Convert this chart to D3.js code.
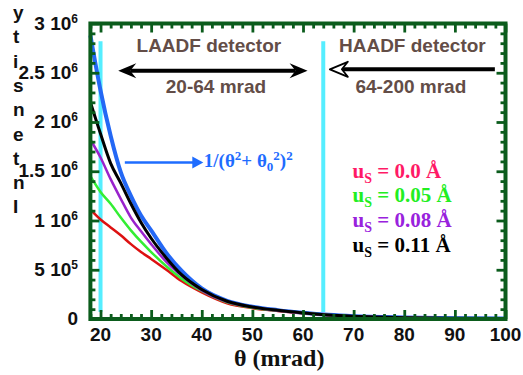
<!DOCTYPE html>
<html>
<head>
<meta charset="utf-8">
<script src="https://cdn.jsdelivr.net/npm/d3@7"></script>
<style>
  html, body { margin: 0; padding: 0; background: #fff; }
  svg { display: block; }
</style>
</head>
<body>
<div id="chart"></div>
<script>
// scattering angle samples (mrad)
const theta = [18, 20, 22, 24, 26, 28, 30, 33, 36, 40, 45, 50, 55, 60, 65, 70, 80, 90, 100];

// intensities in units of 1e6
const blueFit = [2.88, 2.32, 1.86, 1.49, 1.25, 1.05, 0.90, 0.67, 0.49, 0.31, 0.185, 0.125, 0.09, 0.063, 0.042, 0.028, 0.015, 0.008, 0.005];
const us000 = [1.11, 1.01, 0.93, 0.85, 0.76, 0.68, 0.61, 0.50, 0.385, 0.27, 0.16, 0.11, 0.082, 0.058, 0.039, 0.026, 0.012, 0.007, 0.004];
const us005 = [1.45, 1.29, 1.17, 1.03, 0.90, 0.785, 0.68, 0.535, 0.41, 0.285, 0.17, 0.115, 0.085, 0.06, 0.04, 0.026, 0.012, 0.007, 0.004];
const us008 = [1.82, 1.64, 1.42, 1.22, 1.03, 0.89, 0.76, 0.58, 0.44, 0.29, 0.175, 0.12, 0.087, 0.061, 0.04, 0.027, 0.013, 0.007, 0.004];
const us011 = [2.20, 1.88, 1.58, 1.38, 1.17, 0.98, 0.82, 0.62, 0.45, 0.30, 0.18, 0.122, 0.088, 0.062, 0.04, 0.027, 0.013, 0.007, 0.004];

const legendLabels = ["0.0", "0.05", "0.08", "0.11"];
const detectorAngles = [20, 64];

const xTicks = [20, 30, 40, 50, 60, 70, 80, 90, 100];
const yTickMant = ["0", "5", "1", "1.5", "2", "2.5", "3"];
const yTickExp = ["", "5", "6", "6", "6", "6", "6"];
const yTickVals = [0, 5e5, 1e6, 1.5e6, 2e6, 2.5e6, 3e6];

const W = 523, H = 375;
const green = "#0b5c1c";
const brown = "#634d47";
const sans = "'Liberation Sans', Arial, sans-serif";
const serif = "'Liberation Serif', 'Times New Roman', serif";

const svg = d3.select("#chart").append("svg")
  .attr("width", W).attr("height", H);

const x = d3.scaleLinear().domain([18, 100]).range([90.4, 505.5]);
const y = d3.scaleLinear().domain([0, 3e6]).range([319, 23.5]);

// detector boundaries
svg.selectAll(".det")
  .data(detectorAngles)
  .enter().append("line")
  .attr("x1", d => x(d)).attr("x2", d => x(d))
  .attr("y1", y(2.82e6)).attr("y2", y(0.07e6))
  .attr("stroke", "#55eeff").attr("stroke-width", 4);

// curves
const line = d3.line()
  .x((d, i) => x(theta[i]))
  .y(d => y(d * 1e6))
  .curve(d3.curveMonotoneX);

const series = [
  { v: blueFit, c: "#2468f5", w: 4 },
  { v: us000, c: "#dd1111", w: 2.5 },
  { v: us005, c: "#33ee33", w: 2.5 },
  { v: us008, c: "#9922cc", w: 2.5 },
  { v: us011, c: "#000000", w: 3 }
];
svg.selectAll(".curve")
  .data(series)
  .enter().append("path")
  .attr("d", d => line(d.v))
  .attr("fill", "none")
  .attr("stroke", d => d.c)
  .attr("stroke-width", d => d.w)
  .attr("stroke-linejoin", "round");

// frame + inward ticks on all sides
const minorX = d3.range(18, 101, 2).filter(v => v % 10 !== 0);
const minorY = d3.range(0, 3e6 + 1, 1e5).filter(v => v % 5e5 !== 0);

function tickAxis(axis, vals, size, tx, ty) {
  const g = svg.append("g")
    .attr("transform", `translate(${tx},${ty})`)
    .call(axis.tickValues(vals).tickSize(-size).tickFormat(""));
  g.select(".domain").remove();
  g.selectAll("line").attr("stroke", green).attr("stroke-width", 2.8);
}
[[minorX, 5], [xTicks, 9]].forEach(([v, s]) => {
  tickAxis(d3.axisBottom(x), v, s, 0, y(0));
  tickAxis(d3.axisTop(x), v, s, 0, y(3e6));
});
[[minorY, 5], [yTickVals, 9]].forEach(([v, s]) => {
  tickAxis(d3.axisLeft(y), v, s, x(18), 0);
  tickAxis(d3.axisRight(y), v, s, x(100), 0);
});

svg.append("rect")
  .attr("x", x(18)).attr("y", y(3e6))
  .attr("width", x(100) - x(18)).attr("height", y(0) - y(3e6))
  .attr("fill", "none").attr("stroke", green).attr("stroke-width", 4);

// tick labels
svg.selectAll(".xl")
  .data(xTicks)
  .enter().append("text")
  .attr("x", d => x(d)).attr("y", 341)
  .attr("text-anchor", "middle")
  .attr("font-family", sans).attr("font-weight", "bold").attr("font-size", 19)
  .attr("fill", "#111")
  .text(d => d);

yTickVals.forEach((v, i) => {
  const t = svg.append("text")
    .attr("x", 78).attr("y", y(v) + 6)
    .attr("text-anchor", "end")
    .attr("font-family", sans).attr("font-weight", "bold").attr("font-size", 19)
    .attr("fill", "#111");
  if (yTickExp[i]) {
    t.append("tspan").text(yTickMant[i] + " 10");
    t.append("tspan").attr("dy", -7).attr("font-size", 12).text(yTickExp[i]);
  } else {
    t.text(yTickMant[i]);
  }
});

// axis titles
svg.append("text")
  .attr("x", x(55.3)).attr("y", 366)
  .attr("text-anchor", "middle")
  .attr("font-family", serif).attr("font-weight", "bold").attr("font-size", 24)
  .attr("fill", "#111")
  .text("θ (mrad)");

"ytisnetnI".split("").forEach((ch, i) => {
  svg.append("text")
    .attr("x", 13).attr("y", 19 + i * 24.3)
    .attr("font-family", sans).attr("font-weight", "bold").attr("font-size", 19)
    .attr("fill", "#111")
    .text(ch);
});

// detector annotations
const annot = [
  { t: "LAADF detector", th: 41.4, v: 2.71e6 },
  { t: "20-64 mrad", th: 42.8, v: 2.29e6 },
  { t: "HAADF detector", th: 81.6, v: 2.71e6 },
  { t: "64-200 mrad", th: 81.3, v: 2.29e6 }
];
svg.selectAll(".ann")
  .data(annot)
  .enter().append("text")
  .attr("x", d => x(d.th)).attr("y", d => y(d.v))
  .attr("text-anchor", "middle")
  .attr("font-family", sans).attr("font-weight", "bold").attr("font-size", 19)
  .attr("fill", brown)
  .text(d => d.t);

function head(px, py, dir, fill, stroke) {
  // barbed arrow head, tip at (px,py), dir = 1 points right, -1 left
  const p = [[0, 0], [-18, -7.5], [-12, 0], [-18, 7.5]]
    .map(([a, b]) => [px + dir * a, py + b]);
  svg.append("path")
    .attr("d", "M" + p.join("L") + "Z")
    .attr("fill", fill).attr("stroke", stroke).attr("stroke-width", stroke === "none" ? 0 : 1.8)
    .attr("stroke-linejoin", "round");
}

// LAADF double arrow
const la = { a: 23.5, b: 60.9, v: 2.52e6 };
svg.append("line")
  .attr("x1", x(la.a) + 12).attr("x2", x(la.b) - 12)
  .attr("y1", y(la.v)).attr("y2", y(la.v))
  .attr("stroke", "#000").attr("stroke-width", 4);
head(x(la.a), y(la.v), -1, "#000", "none");
head(x(la.b), y(la.v), 1, "#000", "none");

// HAADF arrow
const ha = { a: 65.3, b: 97.9, v: 2.535e6 };
svg.append("line")
  .attr("x1", x(ha.a) + 12).attr("x2", x(ha.b))
  .attr("y1", y(ha.v)).attr("y2", y(ha.v))
  .attr("stroke", "#000").attr("stroke-width", 4);
head(x(ha.a), y(ha.v), -1, "#fff", "#000");

// fit annotation
const fa = { a: 24.8, b: 40.3, v: 1.59e6 };
svg.append("line")
  .attr("x1", x(fa.a)).attr("x2", x(fa.b) - 8)
  .attr("y1", y(fa.v)).attr("y2", y(fa.v))
  .attr("stroke", "#1e6cff").attr("stroke-width", 2.5);
svg.append("path")
  .attr("d", `M${x(fa.b)},${y(fa.v)}L${x(fa.b) - 11},${y(fa.v) - 6}L${x(fa.b) - 11},${y(fa.v) + 6}Z`)
  .attr("fill", "#1e6cff");

const ft = svg.append("text")
  .attr("x", x(40.4)).attr("y", y(1.54e6))
  .attr("font-family", serif).attr("font-weight", "bold").attr("font-size", 19)
  .attr("fill", "#1e6cff");
ft.append("tspan").text("1/(θ");
ft.append("tspan").attr("dy", -7).attr("font-size", 13).text("2");
ft.append("tspan").attr("dy", 7).text("+ θ");
ft.append("tspan").attr("dy", 4).attr("font-size", 13).text("0");
ft.append("tspan").attr("dy", -11).attr("font-size", 13).text("2");
ft.append("tspan").attr("dy", 7).text(")");
ft.append("tspan").attr("dy", -7).attr("font-size", 13).text("2");

// legend
const legColors = ["#ff1a66", "#22ee22", "#9922dd", "#000000"];
const legVals = [1.427e6, 1.19e6, 0.937e6, 0.684e6];
legendLabels.forEach((lab, i) => {
  const t = svg.append("text")
    .attr("x", x(69.8)).attr("y", y(legVals[i]))
    .attr("font-family", serif).attr("font-weight", "bold").attr("font-size", 21)
    .attr("fill", legColors[i]);
  t.append("tspan").text("u");
  t.append("tspan").attr("dy", 5).attr("font-size", 14).text("S");
  t.append("tspan").attr("dy", -5).text(" = " + lab + " Å");
});
</script>
</body>
</html>
